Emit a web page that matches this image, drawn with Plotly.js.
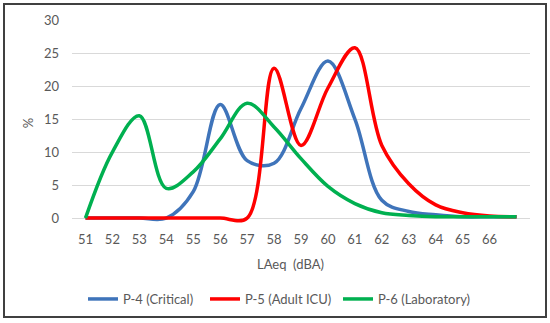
<!DOCTYPE html>
<html>
<head>
<meta charset="utf-8">
<script src="https://cdn.plot.ly/plotly-3.0.1.min.js"></script>
<style>
html,body{margin:0;padding:0;background:#fff;}
#frame{position:absolute;left:3px;top:3px;width:540px;height:311px;border:2px solid #404040;}
#chart{position:absolute;left:0;top:0;width:550px;height:323px;}
</style>
</head>
<body>
<div id="chart"></div>
<div id="frame"></div>
<script>
const levels = [51,52,53,54,55,56,57,58,59,60,61,62,63,64,65,66,67];
const tickValues = [51,52,53,54,55,56,57,58,59,60,61,62,63,64,65,66];
const tickLabels = ["51","52","53","54","55","56","57","58","59","60","61","62","63","64","65","66"];
const yTickValues = [0,5,10,15,20,25,30];
const p4Critical = [0,0,0,0,4,17.2,8.7,8.3,16.6,23.8,15,2.7,1,0.5,0.2,0.2,0.2];
const p5AdultICU = [0,0,0,0,0,0,0,22.7,11,19.7,25.8,11,5.2,2,0.8,0.3,0.2];
const p6Laboratory = [0,10,15.5,4.5,7,12,17.4,13.8,9,4.8,2.2,0.8,0.4,0.2,0.2,0.2,0.2];

const seriesNames = ["P-4 (Critical)","P-5 (Adult ICU)","P-6 (Laboratory)"];
const seriesData = [p4Critical,p5AdultICU,p6Laboratory];
const colors = ["#3F74BA","#FF0000","#00B050"];
const legendIds = ["legend","legend2","legend3"];

const traces = seriesData.map((d,i)=>({
  x: levels, y: d, name: seriesNames[i], type:"scatter", mode:"lines", legend: legendIds[i],
  line:{color:colors[i], width:3.5, shape:"spline", smoothing:1}
}));

const font = {family:"Lato, 'Open Sans', sans-serif", size:13, color:"#595959"};
const legendStarts = [83, 205, 338];
function legendAt(px){
  return {orientation:"h", xref:"container", yref:"container", x:px/550, xanchor:"left",
          y:1-284/323, yanchor:"top", font:font, itemwidth:30, bgcolor:"rgba(0,0,0,0)", borderwidth:0};
}
const layout = {
  width:550, height:323,
  margin:{l:71.5, r:19.5, t:20, b:97.08},
  paper_bgcolor:"#fff", plot_bgcolor:"#fff",
  font: font,
  showlegend:true,
  legend: legendAt(legendStarts[0]),
  legend2: legendAt(legendStarts[1]),
  legend3: legendAt(legendStarts[2]),
  xaxis:{range:[50.5,67.5], tickvals:tickValues, ticktext:tickLabels, showgrid:false, zeroline:false,
         showline:false, ticks:"", tickfont:font, ticklabelstandoff:4, fixedrange:true},
  yaxis:{range:[-1.2,30], tickvals:yTickValues, showgrid:true, gridcolor:"#D9D9D9", gridwidth:1, zeroline:false,
         showline:false, ticks:"", tickfont:font, ticklabelstandoff:12,
         title:{text:"%", font:font, standoff:7}},
  annotations:[{text:"LAeq  (dBA)", xref:"paper", yref:"paper", x:0.476, y:-0.185, xanchor:"center", yanchor:"middle",
                showarrow:false, font:font}]
};
Plotly.newPlot("chart", traces, layout, {displayModeBar:false, staticPlot:true});
</script>
</body>
</html>
